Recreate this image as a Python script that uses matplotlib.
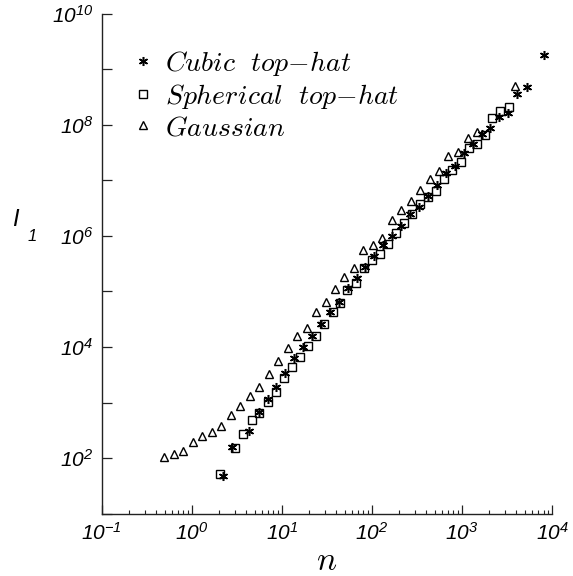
import matplotlib
matplotlib.use("Agg")
import matplotlib.pyplot as plt
from matplotlib.ticker import FixedLocator, FuncFormatter, LogLocator, NullLocator
import numpy as np

plt.rcParams['font.family'] = ['Liberation Sans', 'DejaVu Sans']
plt.rcParams['font.style'] = 'italic'

# ---- data ----
cubic_n = [2.2, 2.78, 4.3, 5.57, 6.96, 8.67, 10.9, 13.6, 17.2, 21.7, 27.0, 34.3, 42.7,
           53.7, 67.6, 83.5, 105.6, 133, 167, 210, 264, 332, 423, 523, 658, 828,
           1042, 1318, 1649, 2033, 2559, 3245, 4085, 5190, 8140]
cubic_I = [48.2, 160, 307, 667, 1172, 1902, 3443, 6380, 9980, 15880, 26100, 42270, 65800,
           113700, 172200, 272500, 437500, 698000, 1.014e6, 1.535e6, 2.45e6, 3.34e6,
           5.32e6, 8.22e6, 1.336e7, 1.845e7, 3.10e7, 4.55e7, 6.89e7, 8.62e7, 1.394e8,
           1.645e8, 3.57e8, 4.83e8, 1.80e9]

sph_n = [2.06, 3.0, 3.73, 4.62, 5.64, 6.96, 8.54, 10.47, 12.94, 15.88, 19.5, 24.0, 29.2,
         36.6, 43.8, 53.4, 65.9, 82.4, 100.7, 123.1, 152.2, 185.8, 228, 281, 345, 421,
         516, 633, 780, 962, 1184, 1459, 1791, 2168, 2646, 3304]
sph_I = [51.1, 150, 277, 479, 648, 1009, 1528, 2786, 4395, 6650, 10280, 15880, 26400,
         42070, 62370, 105900, 140000, 263700, 367300, 475000, 721000, 1.148e6, 1.703e6,
         2.45e6, 3.79e6, 5.06e6, 6.41e6, 1.054e7, 1.513e7, 2.178e7, 3.89e7, 4.55e7,
         6.53e7, 1.305e8, 1.788e8, 2.06e8]

gau_n = [0.496, 0.631, 0.806, 1.032, 1.31, 1.664, 2.138, 2.725, 3.446, 4.405, 5.60, 7.14,
         9.10, 11.6, 14.8, 18.8, 24.0, 30.6, 39.0, 49.2, 63.1, 80.0, 102.4, 129.6, 165.6,
         212, 269, 342, 440, 556, 705, 904, 1159, 1466, 3854]
gau_I = [106, 118, 136, 196, 255, 292, 378, 596, 873, 1294, 1919, 3289, 5590, 9580,
         15630, 22130, 42070, 64430, 109600, 184000, 260600, 563000, 676000, 903000,
         1.952e6, 2.955e6, 4.19e6, 6.74e6, 1.045e7, 1.487e7, 2.70e7, 3.23e7, 5.70e7,
         7.48e7, 4.98e8]

labels = [r'$Cubic\ \ top{-}hat$', r'$Spherical\ \ top{-}hat$', r'$Gaussian$']
x_ticks = [0.1, 1, 10, 100, 1000, 10000]
y_ticks = [1e1, 1e2, 1e3, 1e4, 1e5, 1e6, 1e7, 1e8, 1e9, 1e10]

W, H = 573, 576
fig = plt.figure(figsize=(W / 100, H / 100), dpi=100)
x0, x1 = 101.6, 552.3
yb, yt = 513.7, 13.6
ax = fig.add_axes([x0 / W, 1 - yb / H, (x1 - x0) / W, (yb - yt) / H])

star = (6, 2, 0)  # six-armed asterisk
ax.plot(cubic_n, cubic_I, linestyle='none', marker=star, markersize=6.5,
        markeredgewidth=1.1, color='black', label=labels[0])
ax.plot(sph_n, sph_I, linestyle='none', marker='s', markersize=5.5,
        markerfacecolor='none', markeredgewidth=1.0, markeredgecolor='black', label=labels[1])
ax.plot(gau_n, gau_I, linestyle='none', marker='^', markersize=6,
        markerfacecolor='none', markeredgewidth=1.0, markeredgecolor='black', label=labels[2])

ax.set_xscale('log')
ax.set_yscale('log')
ax.set_xlim(0.1, 1e4)
ax.set_ylim(10, 1e10)

for s in ['top', 'right']:
    ax.spines[s].set_visible(False)
for s in ['left', 'bottom']:
    ax.spines[s].set_linewidth(1.0)
    ax.spines[s].set_color('#222222')

ax.xaxis.set_major_locator(FixedLocator(x_ticks))
ax.xaxis.set_minor_locator(LogLocator(base=10, subs=np.arange(2, 10)))
ax.yaxis.set_major_locator(FixedLocator(y_ticks))
ax.yaxis.set_minor_locator(NullLocator())

def fmt_x(v, pos):
    e = int(round(np.log10(v)))
    return r'$\mathdefault{10^{%d}}$' % e

def fmt_y(v, pos):
    e = int(round(np.log10(v)))
    if e % 2:
        return ''
    return r'$\mathdefault{10^{%d}}$' % e

ax.xaxis.set_major_formatter(FuncFormatter(fmt_x))
ax.yaxis.set_major_formatter(FuncFormatter(fmt_y))

ax.tick_params(axis='x', which='major', direction='in', length=6.5, width=0.9,
               labelsize=15, pad=6, color='#222222')
ax.tick_params(axis='x', which='minor', direction='in', length=3, width=0.8, color='#222222')
ax.tick_params(axis='y', which='major', direction='in', length=7, width=0.9,
               labelsize=15, pad=6, color='#222222')

leg = ax.legend(loc='upper left', bbox_to_anchor=(0.049, 0.952), frameon=False,
                handlelength=0.6, handletextpad=0.49, labelspacing=0.15,
                borderaxespad=0, fontsize=20)
for t in leg.get_texts():
    t.set_math_fontfamily('cm')

# axis labels
fig.text(12 / W, 1 - 226 / H, 'I', fontsize=17, fontstyle='italic',
         family='Liberation Sans', ha='left', va='baseline')
fig.text(28 / W, 1 - 241 / H, '1', fontsize=12, fontstyle='italic',
         family='Liberation Sans', ha='left', va='baseline')
fig.text(327 / W, 1 - 570 / H, r'$n$', fontsize=24, math_fontfamily='cm',
         ha='center', va='baseline')

fig.savefig('out.png', dpi=100)
